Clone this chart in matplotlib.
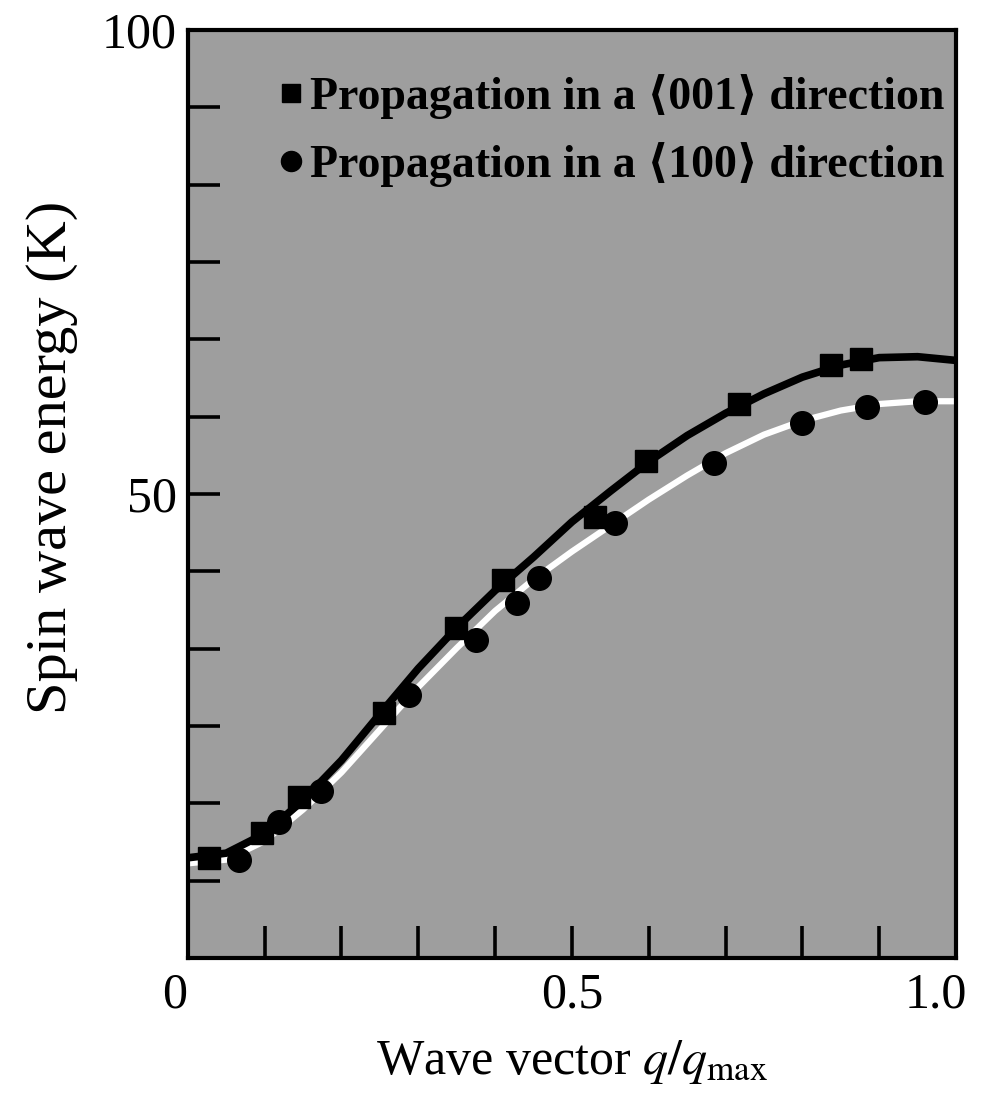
import matplotlib
matplotlib.use("Agg")
import matplotlib.pyplot as plt
import matplotlib.transforms as mtrans
import numpy as np

# measured points, <001> direction (squares)
q_001 = [0.028, 0.097, 0.145, 0.255, 0.349, 0.410, 0.530, 0.597, 0.717, 0.837, 0.876]
e_001 = [10.8, 13.5, 17.3, 26.4, 35.6, 40.7, 47.5, 53.6, 59.7, 63.9, 64.5]

# measured points, <100> direction (circles)
q_100 = [0.067, 0.119, 0.174, 0.288, 0.375, 0.429, 0.457, 0.556, 0.685, 0.800, 0.884, 0.959]
e_100 = [10.6, 14.7, 18.0, 28.3, 34.3, 38.3, 40.9, 46.9, 53.3, 57.7, 59.4, 59.9]

# fitted curves
q_curve = [0.0, 0.05, 0.10, 0.15, 0.20, 0.25, 0.30, 0.35, 0.40, 0.45, 0.50,
           0.55, 0.60, 0.65, 0.70, 0.75, 0.80, 0.85, 0.90, 0.95, 1.0]
e_curve_001 = [10.8, 11.3, 13.4, 17.0, 21.3, 26.3, 31.2, 35.6, 39.6, 43.2, 47.0,
               50.3, 53.5, 56.3, 58.7, 60.8, 62.6, 63.9, 64.7, 64.8, 64.4]
e_curve_100 = [10.2, 10.6, 12.6, 16.0, 20.0, 24.6, 29.2, 33.4, 37.4, 40.8, 43.8,
               46.6, 49.4, 52.0, 54.4, 56.4, 57.9, 59.0, 59.7, 60.0, 60.0]

plt.rcParams["font.family"] = ["Liberation Serif", "DejaVu Sans"]
plt.rcParams["mathtext.fontset"] = "stix"

fig = plt.figure(figsize=(9.99, 10.93), dpi=100)
ax = fig.add_axes([0.188, 0.1235, 0.769, 0.849])
ax.set_facecolor("#9e9e9e")

ax.plot(q_curve, e_curve_100, color="white", lw=4.5, zorder=2)
ax.plot(q_curve, e_curve_001, color="black", lw=5.5, zorder=3)
ax.plot(q_001, e_001, "s", color="black", ms=16, ls="none", zorder=4,
        label="Propagation in a \u27e8001\u27e9 direction")
ax.plot(q_100, e_100, "o", color="black", ms=17, ls="none", zorder=5,
        label="Propagation in a \u27e8100\u27e9 direction")

ax.set_xlim(0, 1.0)
ax.set_ylim(0, 100)

ax.set_xticks(np.arange(0, 1.01, 0.1))
ax.set_xticklabels(["0", "", "", "", "", "0.5", "", "", "", "", "1.0"])
ax.set_yticks(np.linspace(0, 100, 13))
ax.set_yticklabels(["" if i not in (6, 12) else str(int(v))
                    for i, v in enumerate(np.linspace(0, 100, 13))])

ax.tick_params(direction="in", length=23, width=2.6, labelsize=36, color="black")
ax.tick_params(axis="x", pad=10)
ax.tick_params(axis="y", pad=8)
for s in ax.spines.values():
    s.set_linewidth(3)

# nudge the end labels left like in the original
xt = ax.get_xticklabels()
xt[0].set_transform(xt[0].get_transform() + mtrans.ScaledTranslation(-0.13, 0, fig.dpi_scale_trans))
xt[-1].set_transform(xt[-1].get_transform() + mtrans.ScaledTranslation(-0.2, 0, fig.dpi_scale_trans))

ax.set_ylabel("Spin wave energy (K)", fontsize=42)
ax.yaxis.set_label_coords(-0.143, 0.539)
ax.set_xlabel("Wave vector $q/q_{\\mathrm{max}}$", fontsize=36, labelpad=14)

leg = ax.legend(loc="upper left", bbox_to_anchor=(0.093, 0.972), frameon=False,
                prop={"size": 33, "weight": "bold"}, handlelength=0.6,
                handletextpad=0.1, labelspacing=0.5, borderaxespad=0,
                markerscale=0.85)

fig.savefig("out.png", dpi=100)
